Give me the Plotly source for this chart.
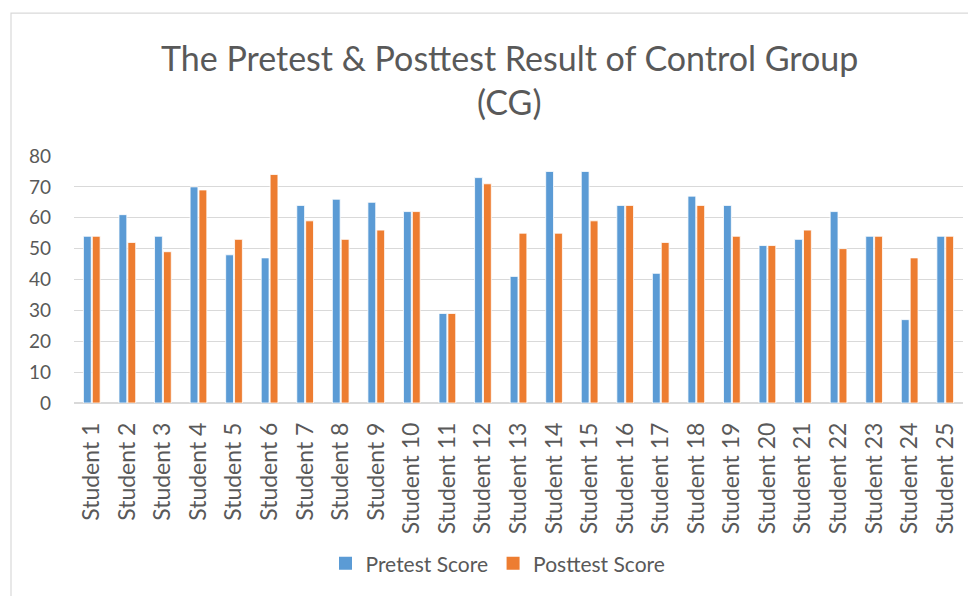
import plotly.graph_objects as go

students = [f"Student {i}" for i in range(1, 26)]
pretest = [54, 61, 54, 70, 48, 47, 64, 66, 65, 62, 29, 73, 41, 75, 75, 64, 42, 67, 64, 51, 53, 62, 54, 27, 54]
posttest = [54, 52, 49, 69, 53, 74, 59, 53, 56, 62, 29, 71, 55, 55, 59, 64, 52, 64, 54, 51, 56, 50, 54, 47, 54]
y_ticks = [0, 10, 20, 30, 40, 50, 60, 70, 80]
title_lines = ["The Pretest & Posttest Result of Control Group", "(CG)"]
series_names = ["Pretest Score", "Posttest Score"]
colors = ["#5B9BD5", "#ED7D31"]

FONT = "Lato"
GREY = "#595959"

fig = go.Figure()
for name, vals, col in zip(series_names, [pretest, posttest], colors):
    fig.add_trace(go.Bar(name=name, x=students, y=vals, showlegend=False,
                         marker=dict(color=col, line=dict(color="white", width=0.8))))
# legend entries with square swatches like the reference
for name, col in zip(series_names, colors):
    fig.add_trace(go.Scatter(name=name, x=[None], y=[None], mode="markers",
                             marker=dict(symbol="square", size=13, color=col),
                             showlegend=True))

# page has an 8px body margin; figure coordinates are page coordinates minus 8
W, H = 968, 588
L, R, T, B = 66, 13, 148, 191
pw, ph = W - L - R, H - T - B

def px(xf):
    return (xf - L) / pw

def py(yf):
    return (H - B - yf) / ph

fig.update_layout(
    width=W, height=H,
    margin=dict(l=L, r=R, t=T, b=B),
    paper_bgcolor="white", plot_bgcolor="white",
    barmode="group", bargap=0.5, bargroupgap=0.12,
    font=dict(family=FONT, color=GREY),
    xaxis=dict(tickangle=-90, tickfont=dict(size=23, color=GREY),
               showgrid=False, showline=False, ticks="", ticklabelstandoff=14),
    yaxis=dict(range=[0, 80], tickvals=y_ticks, tickfont=dict(size=19, color=GREY),
               showgrid=True, gridcolor="#D9D9D9", gridwidth=1.3,
               zeroline=True, zerolinecolor="#D9D9D9", zerolinewidth=2,
               showline=False, ticks="", ticklabelstandoff=22),
    legend=dict(orientation="h", x=px(490), xanchor="center", y=py(559), yanchor="middle",
                font=dict(size=21, color=GREY), itemwidth=30, tracegroupgap=0),
    showlegend=True,
)

for text, yc in zip(title_lines, [49, 93]):
    fig.add_annotation(text=text, xref="paper", yref="paper", x=px(501), y=py(yc),
                       xanchor="center", yanchor="middle", showarrow=False,
                       font=dict(family=FONT, size=34, color=GREY))

fig.add_shape(type="rect", xref="paper", yref="paper",
              x0=px(3), x1=px(1000), y0=py(620), y1=py(4),
              line=dict(color="#D9D9D9", width=1.2), fillcolor="rgba(0,0,0,0)", layer="below")

fig.write_html("out.html")
